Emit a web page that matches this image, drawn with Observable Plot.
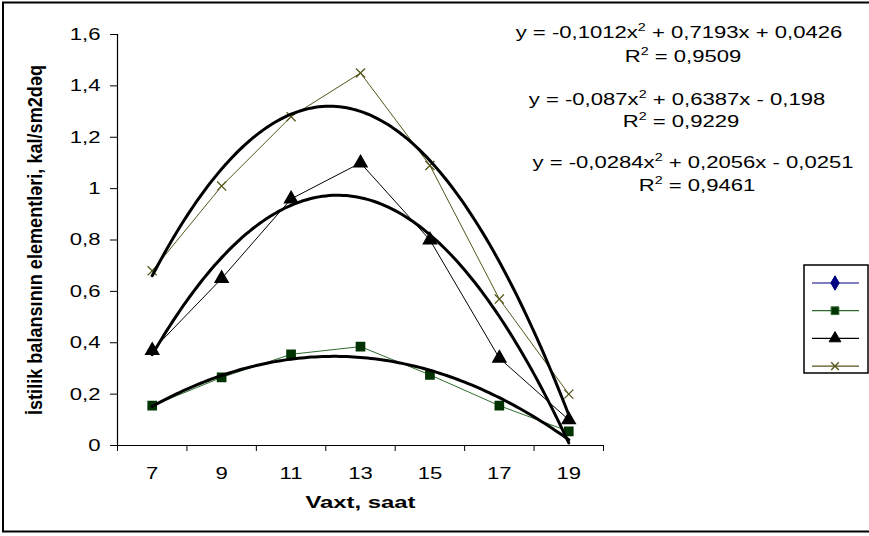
<!DOCTYPE html>
<html>
<head>
<meta charset="utf-8">
<script src="https://cdn.jsdelivr.net/npm/d3@7"></script>
<script src="https://cdn.jsdelivr.net/npm/@observablehq/plot@0.6"></script>
<style>
  body { margin: 0; background: #fff; }
  #chart svg { display: block; font-family: "Liberation Sans", Arial, sans-serif; }
</style>
</head>
<body>
<div id="chart"></div>
<script>
// Hours of observation (category axis)
const hours = [7, 9, 11, 13, 15, 17, 19];
// Category boundaries where the x tick marks sit
const hourEdges = [6, 8, 10, 12, 14, 16, 18, 20];
// Heat balance elements, kal/sm2dəq
const squareValues = [0.155, 0.265, 0.355, 0.385, 0.275, 0.155, 0.055];
const triangleValues = [0.37, 0.65, 0.96, 1.10, 0.80, 0.34, 0.10];
const crossValues = [0.68, 1.01, 1.28, 1.45, 1.09, 0.57, 0.20];
// y axis ticks
const yTicks = [0, 0.2, 0.4, 0.6, 0.8, 1.0, 1.2, 1.4, 1.6];

// Polynomial trendlines (x = category index 1..7): y = a·x² + b·x + c
const trendNames = ["cross", "triangle", "square"];
const trendA = [-0.1012, -0.087, -0.0284];
const trendB = [0.7193, 0.6387, 0.2056];
const trendC = [0.0426, -0.198, -0.0251];
// Trendline equation texts (before and after the superscript 2) and R²
const eqPre = ["y = -0,1012x", "y = -0,087x", "y = -0,0284x"];
const eqPost = [" + 0,7193x + 0,0426", " + 0,6387x - 0,198", " + 0,2056x - 0,0251"];
const r2Text = ["0,9509", "0,9229", "0,9461"];

// Legend series markers
const legendSymbols = ["diamond", "square", "triangle", "times"];
const legendColors = ["#000080", "#2f6b2f", "#000000", "#55551a"];
const legendFills = ["#000080", "#003300", "#000000", "none"];

const toRows = (vals) => vals.map((v, i) => ({hour: hours[i], value: v}));

// Sample each trendline along the category index
const trendRows = [];
trendNames.forEach((name, k) => {
  for (let s = 0; s <= 120; s++) {
    const t = 1 + s * 6 / 120;
    trendRows.push({name, hour: 5 + 2 * t, value: trendA[k] * t * t + trendB[k] * t + trendC[k]});
  }
});

const fmt = d => String(+d.toFixed(1)).replace(".", ",");
const FS = 17;          // base font size
const STRETCH = 1.3;    // wide glyph proportion of the text

const chart = Plot.plot({
  width: 869,
  height: 536,
  marginLeft: 117,
  marginRight: 266,
  marginTop: 34,
  marginBottom: 91,
  style: {fontFamily: "'Liberation Sans', Arial, sans-serif", color: "#000", background: "#fff"},
  x: {domain: [6, 20]},
  y: {domain: [0, 1.6]},
  marks: [
    Plot.axisY(yTicks, {tickSize: 7, tickPadding: 10, tickFormat: fmt, fontSize: FS, label: null}),
    Plot.axisX(hourEdges, {tickSize: 6, tickFormat: () => "", label: null}),
    Plot.axisX(hours, {tickSize: 0, tickPadding: 21, fontSize: FS, label: null}),
    Plot.ruleY([0], {stroke: "#000", strokeWidth: 1.2}),
    Plot.ruleX([6], {stroke: "#000", strokeWidth: 1.2}),
    // observed series
    Plot.line(toRows(squareValues), {x: "hour", y: "value", stroke: "#2f6b2f", strokeWidth: 1}),
    Plot.dot(toRows(squareValues), {x: "hour", y: "value", symbol: "square", r: 4.6, fill: "#003300", stroke: "#003300"}),
    Plot.line(toRows(triangleValues), {x: "hour", y: "value", stroke: "#000", strokeWidth: 1}),
    Plot.dot(toRows(triangleValues), {x: "hour", y: "value", symbol: "triangle", r: 4.8, fill: "#000", stroke: "#000"}),
    Plot.line(toRows(crossValues), {x: "hour", y: "value", stroke: "#55551a", strokeWidth: 1}),
    Plot.dot(toRows(crossValues), {x: "hour", y: "value", symbol: "times", r: 4.2, stroke: "#55551a", strokeWidth: 1.3}),
    // trendlines
    Plot.line(trendRows, {x: "hour", y: "value", z: "name", stroke: "#000", strokeWidth: 3}),
    // axis titles
    Plot.text(["Vaxt, saat"], {frameAnchor: "bottom", dy: 62, fontSize: FS, fontWeight: "bold", text: d => d}),
    Plot.text(["İstilik balansının elementləri, kal/sm2dəq"], {frameAnchor: "left", dx: -82, rotate: -90, textAnchor: "middle", fontSize: 15, fontWeight: "bold", text: d => d})
  ]
});

document.getElementById("chart").appendChild(chart);
const svg = d3.select(chart);

// widen the axis texts; the rotated title keeps its length and gets wider strokes
svg.selectAll("text").each(function () {
  const txt = this.textContent;
  if (!txt) return;
  const w = this.getComputedTextLength();
  this.setAttribute("lengthAdjust", "spacingAndGlyphs");
  if (txt.startsWith("İstilik")) {
    this.setAttribute("textLength", 350);
    this.setAttribute("transform", (this.getAttribute("transform") || "") + ` scale(1,${STRETCH})`);
  } else if (txt.startsWith("Vaxt")) {
    this.setAttribute("textLength", 110);
  } else {
    this.setAttribute("textLength", w * STRETCH);
  }
});

// outer border
svg.append("rect").attr("x", 3).attr("y", 2.5).attr("width", 880).attr("height", 529)
  .attr("fill", "none").attr("stroke", "#000").attr("stroke-width", 2);

// trendline equations
const eqX = [679, 677, 693];
const eqY = [38, 105, 168];
const rY = [62, 127, 191];
const stretched = (x, y) => `translate(${x},${y}) scale(${STRETCH},1)`;
eqPre.forEach((pre, k) => {
  const t = svg.append("text").attr("transform", stretched(eqX[k], eqY[k])).attr("text-anchor", "middle")
    .attr("font-size", FS).attr("fill", "#000");
  t.append("tspan").text(pre);
  t.append("tspan").attr("font-size", 11).attr("dy", -7).text("2");
  t.append("tspan").attr("dy", 7).text(eqPost[k]);
  const r = svg.append("text").attr("transform", stretched(eqX[k] + 4, rY[k])).attr("text-anchor", "middle")
    .attr("font-size", FS).attr("fill", "#000");
  r.append("tspan").text("R");
  r.append("tspan").attr("font-size", 11).attr("dy", -7).text("2");
  r.append("tspan").attr("dy", 7).text(" = " + r2Text[k]);
});

// legend
const lg = svg.append("g");
lg.append("rect").attr("x", 804).attr("y", 265).attr("width", 64).attr("height", 108)
  .attr("fill", "#fff").attr("stroke", "#000").attr("stroke-width", 1.5);
const symMap = {diamond: d3.symbolDiamond, square: d3.symbolSquare, triangle: d3.symbolTriangle, times: d3.symbolTimes};
legendSymbols.forEach((s, i) => {
  const y = 283 + i * 27.7;
  lg.append("line").attr("x1", 812).attr("x2", 859).attr("y1", y).attr("y2", y)
    .attr("stroke", legendColors[i]).attr("stroke-width", 1.2);
  lg.append("path").attr("transform", `translate(835,${y})`)
    .attr("d", d3.symbol(symMap[s], s === "times" ? 40 : 60)())
    .attr("fill", legendFills[i]).attr("stroke", legendColors[i]).attr("stroke-width", s === "times" ? 1.3 : 1);
});
</script>
</body>
</html>
